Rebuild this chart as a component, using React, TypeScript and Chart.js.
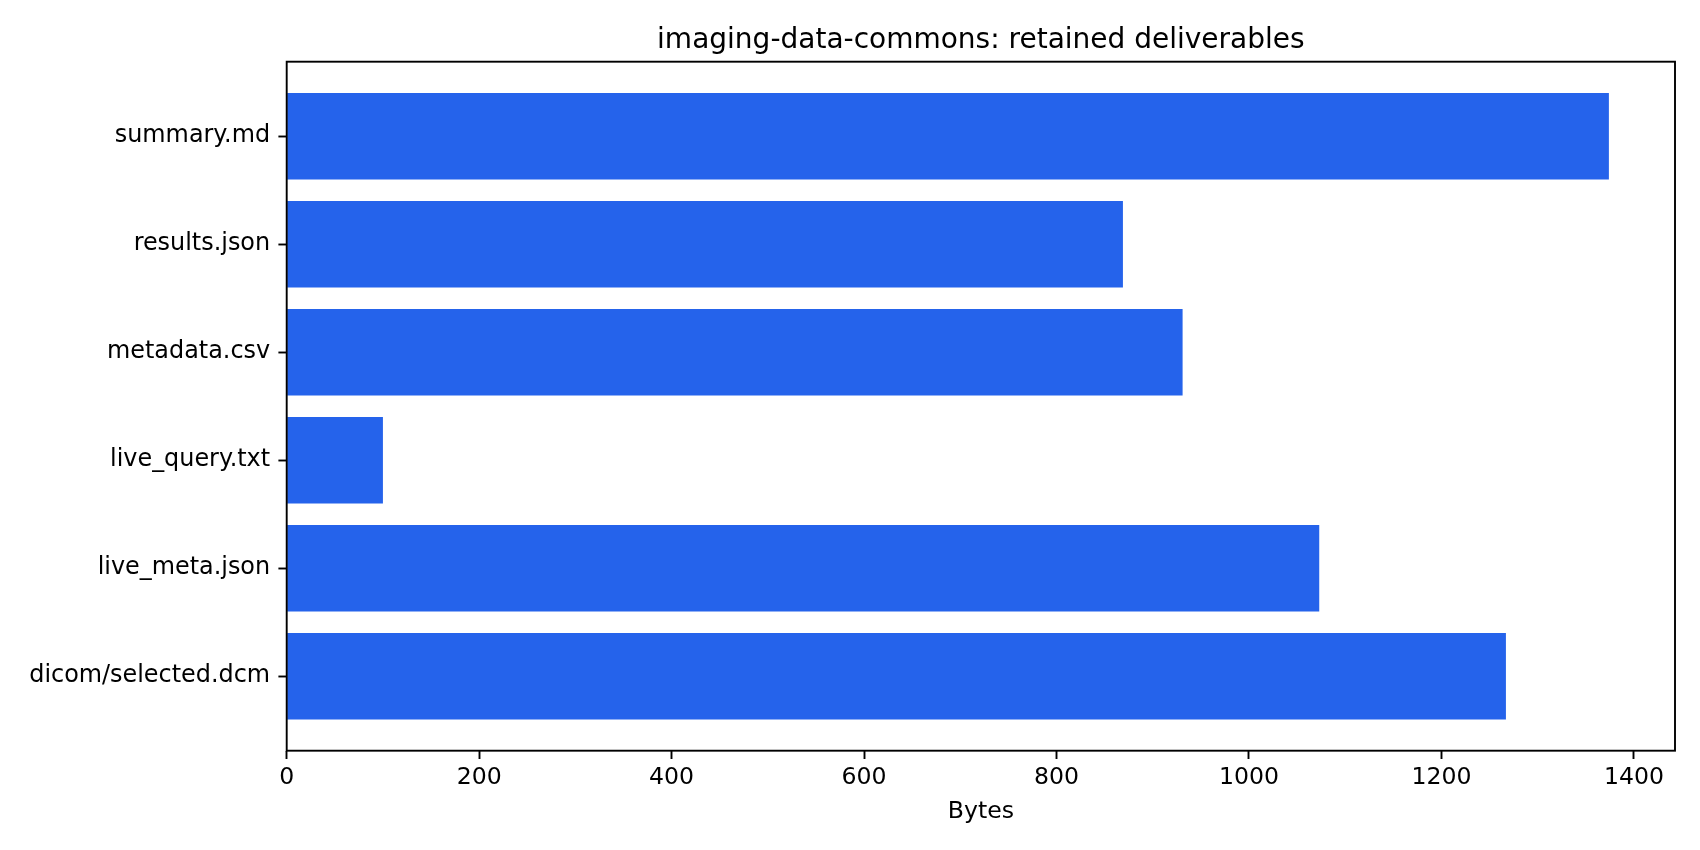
import React, { useEffect, useRef } from 'react';
import { Chart, registerables, ChartItem, Plugin } from 'chart.js';

Chart.register(...registerables);

// files, bottom to top (matplotlib barh order)
const fileNames = [
  'dicom/selected.dcm',
  'live_meta.json',
  'live_query.txt',
  'metadata.csv',
  'results.json',
  'summary.md'
];
const fileBytes = [1267, 1073, 100, 931, 869, 1374];
const xTickValues = [0, 200, 400, 600, 800, 1000, 1200, 1400];

const chartTitle = 'imaging-data-commons: retained deliverables';
const xAxisLabel = 'Bytes';

const FONT = '"DejaVu Sans", sans-serif';
const BAR_COLOR = '#2563eb';

// title above the axes, like ax.set_title
const titlePlugin: Plugin = {
  id: 'axesTitle',
  afterDraw(chart) {
    const { ctx, chartArea } = chart;
    ctx.save();
    ctx.font = `28px ${FONT}`;
    ctx.fillStyle = '#000';
    ctx.textAlign = 'center';
    ctx.textBaseline = 'alphabetic';
    ctx.fillText(chartTitle, (chartArea.left + chartArea.right) / 2, chartArea.top - 14.2);
    ctx.restore();
  }
};

// four spines round the plot area
const framePlugin: Plugin = {
  id: 'axesFrame',
  afterDraw(chart) {
    const { ctx, chartArea } = chart;
    ctx.save();
    ctx.strokeStyle = '#000';
    ctx.lineWidth = 1.9;
    ctx.strokeRect(
      chartArea.left,
      chartArea.top,
      chartArea.right - chartArea.left,
      chartArea.bottom - chartArea.top
    );
    ctx.restore();
  }
};

const App = () => {
  const chartRef = useRef<HTMLCanvasElement | null>(null);
  const myChartRef = useRef<Chart | null>(null);

  useEffect(() => {
    document.body.style.margin = '0';
    const ctx = chartRef.current!.getContext('2d') as ChartItem;
    const n = fileNames.length;
    const yMargin = 0.05 * (n - 1 + 0.8);
    const xMax = Math.max(...fileBytes) * 1.05;

    myChartRef.current = new Chart(ctx, {
      type: 'bar',
      data: {
        datasets: [
          {
            data: fileBytes.map((v, i) => ({ x: v, y: i })),
            backgroundColor: BAR_COLOR,
            borderWidth: 0,
            categoryPercentage: 0.8,
            barPercentage: 1
          }
        ]
      },
      plugins: [titlePlugin, framePlugin],
      options: {
        indexAxis: 'y',
        responsive: false,
        animation: false,
        devicePixelRatio: 1,
        layout: {
          padding: { top: 61.7, right: 25, bottom: 0, left: 0 }
        },
        plugins: {
          legend: { display: false },
          tooltip: { enabled: false },
          title: { display: false }
        },
        scales: {
          x: {
            type: 'linear',
            min: 0,
            max: xMax,
            offset: false,
            border: { display: false },
            grid: {
              offset: false,
              drawOnChartArea: false,
              drawTicks: true,
              tickLength: 8.3,
              tickWidth: 1.9,
              tickColor: '#000'
            },
            afterBuildTicks: (scale) => {
              scale.ticks = xTickValues.map((v) => ({ value: v }));
            },
            afterFit: (scale) => {
              scale.height = 99.3;
            },
            ticks: {
              color: '#000',
              padding: 5,
              maxRotation: 0,
              autoSkip: false,
              font: { family: FONT, size: 23.6 },
              callback: (value) => String(value)
            },
            title: {
              display: true,
              text: xAxisLabel,
              color: '#000',
              padding: { top: 0, bottom: 23.8 },
              font: { family: FONT, size: 23.6 }
            }
          },
          y: {
            type: 'linear',
            min: -0.4 - yMargin,
            max: n - 1 + 0.4 + yMargin,
            offset: false,
            border: { display: false },
            grid: {
              offset: false,
              drawOnChartArea: false,
              drawTicks: true,
              tickLength: 8.3,
              tickWidth: 1.9,
              tickColor: '#000'
            },
            afterBuildTicks: (scale) => {
              scale.ticks = fileNames.map((_, i) => ({ value: i }));
            },
            afterFit: (scale) => {
              scale.width = 286.7;
            },
            ticks: {
              color: '#000',
              padding: 8.3,
              autoSkip: false,
              font: { family: FONT, size: 23.9 },
              callback: (value) => fileNames[Number(value)] ?? ''
            }
          }
        }
      }
    });

    return () => {
      if (myChartRef.current) myChartRef.current.destroy();
    };
  }, []);

  return (
    <div style={{ position: 'absolute', left: 0, top: 0, width: '1700px', height: '850px', background: '#fff' }}>
      <canvas ref={chartRef} width='1700' height='850'></canvas>
    </div>
  );
};

export default App;
